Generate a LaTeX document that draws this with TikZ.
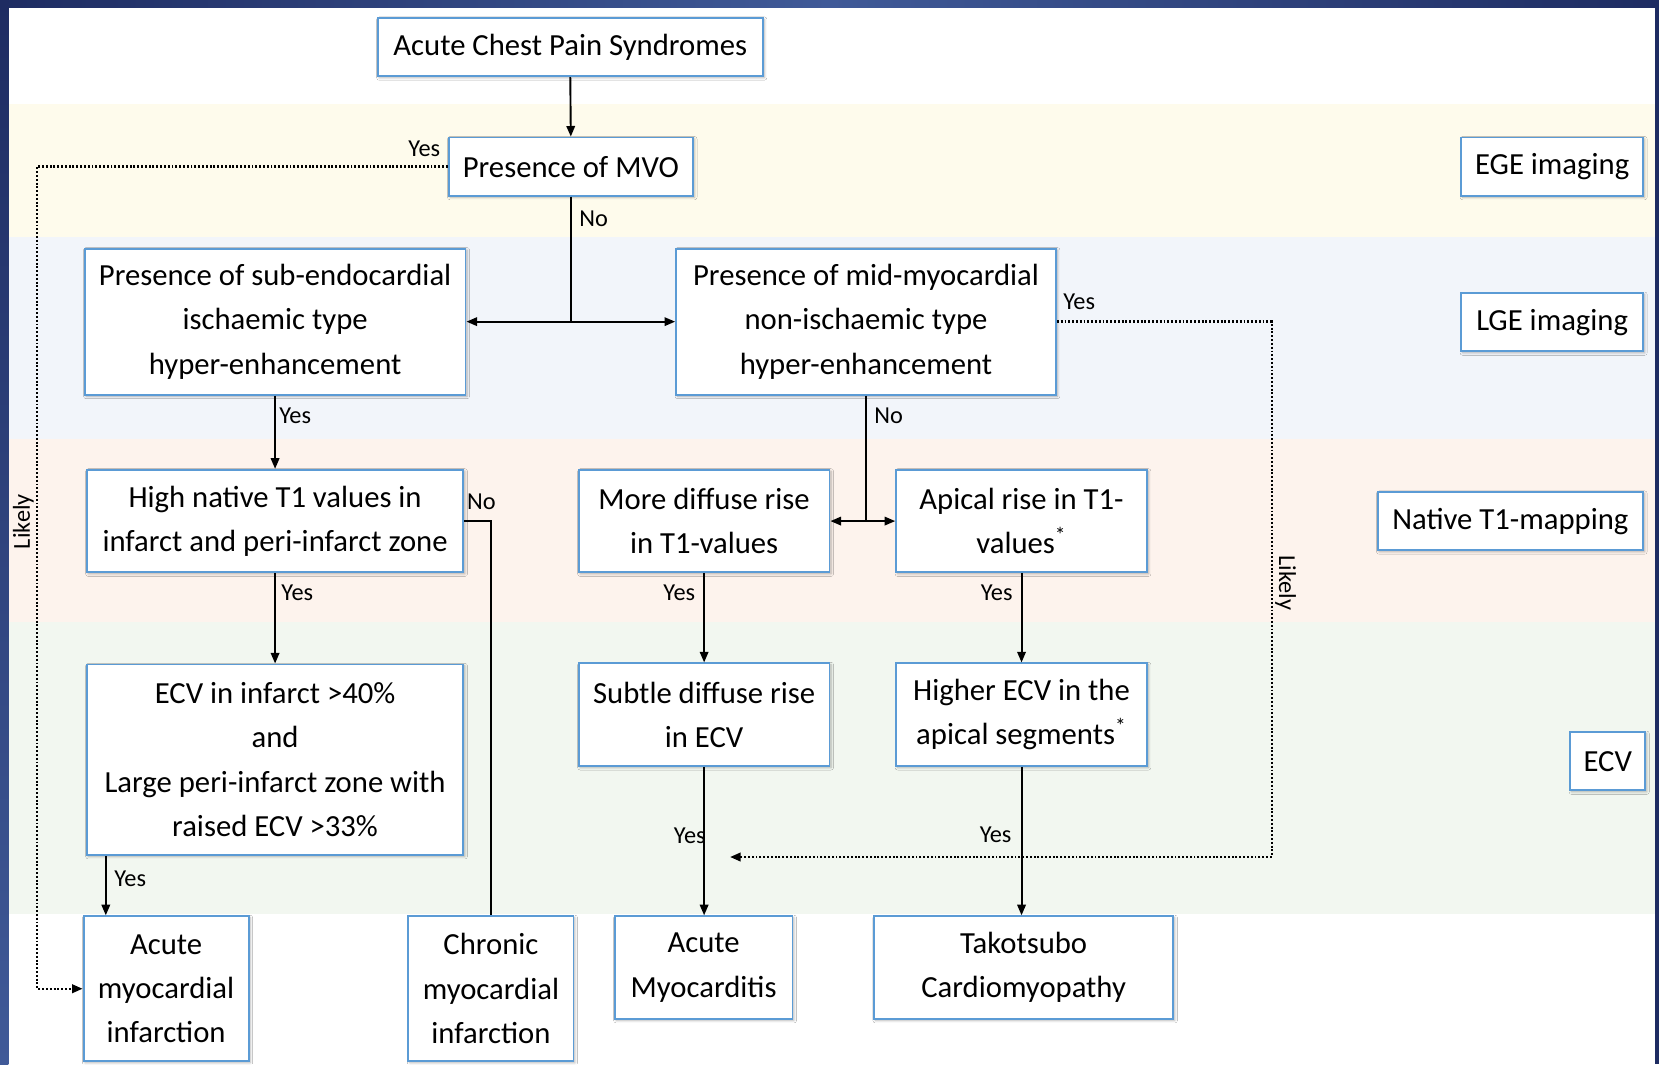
\documentclass[tikz,border=0pt]{standalone}
\usepackage{fontspec}
\setmainfont{Carlito}
\usetikzlibrary{arrows.meta,shadows.blur,calc}
\definecolor{bandY}{RGB}{254,251,236}
\definecolor{bandB}{RGB}{242,245,250}
\definecolor{bandP}{RGB}{253,243,237}
\definecolor{bandG}{RGB}{242,247,240}
\definecolor{edgeblue}{RGB}{91,155,213}
\definecolor{navy}{RGB}{30,44,98}
\definecolor{navylight}{RGB}{64,90,152}

\begin{document}
\begin{tikzpicture}[x=0.5pt,y=-0.5pt,
  box/.style={draw=edgeblue, line width=0.9pt, fill=white, align=center,
    inner sep=0pt, font=\fontsize{14.5}{21}\selectfont,
    blur shadow={shadow blur steps=5, shadow xshift=0.7pt, shadow yshift=-0.7pt,
      shadow blur radius=1.2pt, shadow opacity=30}},
  wh/.style 2 args={minimum width=#1*0.5pt, minimum height=#2*0.5pt},
  lbl/.style={font=\fontsize{11.5}{13}\selectfont, inner sep=0pt},
  link/.style={line width=0.9pt},
  arr/.style={link, -{Triangle[length=5pt,width=4pt]}},
  dotlink/.style={line width=1.1pt, dash pattern=on 0.9pt off 0.9pt},
  dotarr/.style={dotlink, -{Triangle[length=5pt,width=4pt]}},
]
\useasboundingbox (0,0) rectangle (1568,1006);

% imaging bands
\fill[white] (0,0) rectangle (1568,1006);
\fill[bandY] (8,98) rectangle (1564,224);
\fill[bandB] (8,224) rectangle (1564,415);
\fill[bandP] (8,415) rectangle (1564,588);
\fill[bandG] (8,588) rectangle (1564,864);

% frame
\shade[left color=navy, right color=navy, middle color=navylight] (0,0) rectangle (1568,7);
\shade[top color=navy, bottom color=navylight] (0,0) rectangle (8,1006);
\fill[navy] (1564,0) rectangle (1568,1006);

% decision boxes
\node[box, wh={364}{55}] (acp) at (539,44.5) {Acute Chest Pain Syndromes};
\node[box, wh={231}{55}] (mvo) at (539.5,157.5) {Presence of MVO};
\node[box, wh={360}{138}] (sub) at (260,304) {Presence of sub-endocardial\\ischaemic type\\hyper-enhancement};
\node[box, wh={359}{138}] (mid) at (818.5,304) {Presence of mid-myocardial\\non-ischaemic type\\hyper-enhancement};
\node[box, wh={356}{97}] (hn) at (260,492.5) {High native T1 values in\\infarct and peri-infarct zone};
\node[box, wh={237}{97}] (dif) at (665.5,492.5) {More diffuse rise\\in T1-values};
\node[box, wh={237}{97}] (api) at (965.5,492.5) {Apical rise in T1-\\values\textsuperscript{*}};
\node[box, wh={356}{180}] (ecvi) at (260,718) {ECV in infarct >40\%\\and\\Large peri-infarct zone with\\raised ECV >33\%};
\node[box, wh={237}{97}] (sec) at (665.5,675.5) {Subtle diffuse rise\\in ECV};
\node[box, wh={237}{97}] (hecv) at (965.5,675.5) {Higher ECV in the\\apical segments\textsuperscript{*}};

% diagnoses
\node[box, wh={156}{137}] (ami) at (157,934.5) {Acute\\myocardial\\infarction};
\node[box, wh={156}{137}] (cmi) at (464,934.5) {Chronic\\myocardial\\infarction};
\node[box, wh={168}{97}] (am) at (665,914.5) {Acute\\Myocarditis};
\node[box, wh={283}{97}] (tak) at (967.5,914.5) {Takotsubo\\Cardiomyopathy};

% imaging technique tags
\node[box, wh={172}{55}] (ege) at (1467,157.5) {EGE imaging};
\node[box, wh={172}{55}] (lge) at (1467,304.5) {LGE imaging};
\node[box, wh={251}{55}] (nt1) at (1427.5,492.5) {Native T1-mapping};
\node[box, wh={71}{55}] (ecv) at (1519.5,719.5) {ECV};

% solid connectors
\draw[arr] (acp.south) -- (mvo.north);
\coordinate (nsplit) at (mvo.south |- sub.east);
\draw[link] (mvo.south) -- (nsplit);
\draw[arr] (nsplit) -- (sub.east);
\draw[arr] (nsplit) -- (mid.west);
\draw[arr] (sub.south) -- (hn.north);
\draw[arr] (hn.south) -- (ecvi.north);
\coordinate (xa) at (100,0);
\draw[arr] (ecvi.south -| xa) -- (ami.north -| xa);
\draw[link] (hn.east) -- (hn.east -| cmi.north) -- (cmi.north);
\coordinate (msplit) at (mid.south |- dif.east);
\draw[link] (mid.south) -- (msplit);
\draw[arr] (msplit) -- (dif.east);
\draw[arr] (msplit) -- (api.west);
\draw[arr] (dif.south) -- (sec.north);
\draw[arr] (api.south) -- (hecv.north);
\draw[arr] (sec.south) -- (sec.south |- am.north);
\draw[arr] (hecv.south) -- (hecv.south |- tak.north);

% dotted "likely" shortcuts
\coordinate (lc) at (35,157.5);
\draw[dotarr] (mvo.west) -- (lc) |- (ami.west);
\coordinate (rc1) at (1202,304);
\coordinate (rc2) at (1202,810);
\coordinate (rend) at (690,810);
\draw[dotarr] (mid.east) -- (rc1) -- (rc2) -- (rend);

% branch labels
\node[lbl] (y1) at (401,141) {Yes};
\node[lbl] (n1) at (561,207) {No};
\node[lbl] (y2) at (279,393) {Yes};
\node[lbl] (y3) at (281,560) {Yes};
\node[lbl] (y4) at (123,831) {Yes};
\node[lbl] (n2) at (455,474) {No};
\node[lbl] (y5) at (1020,285) {Yes};
\node[lbl] (n3) at (840,393) {No};
\node[lbl] (y6) at (642,560) {Yes};
\node[lbl] (y7) at (942,560) {Yes};
\node[lbl] (y8) at (652,790) {Yes};
\node[lbl] (y9) at (941,789) {Yes};
\node[lbl, rotate=90] (lk1) at (22,493) {Likely};
\node[lbl, rotate=-90] (lk2) at (1215,551) {Likely};
\end{tikzpicture}
\end{document}
